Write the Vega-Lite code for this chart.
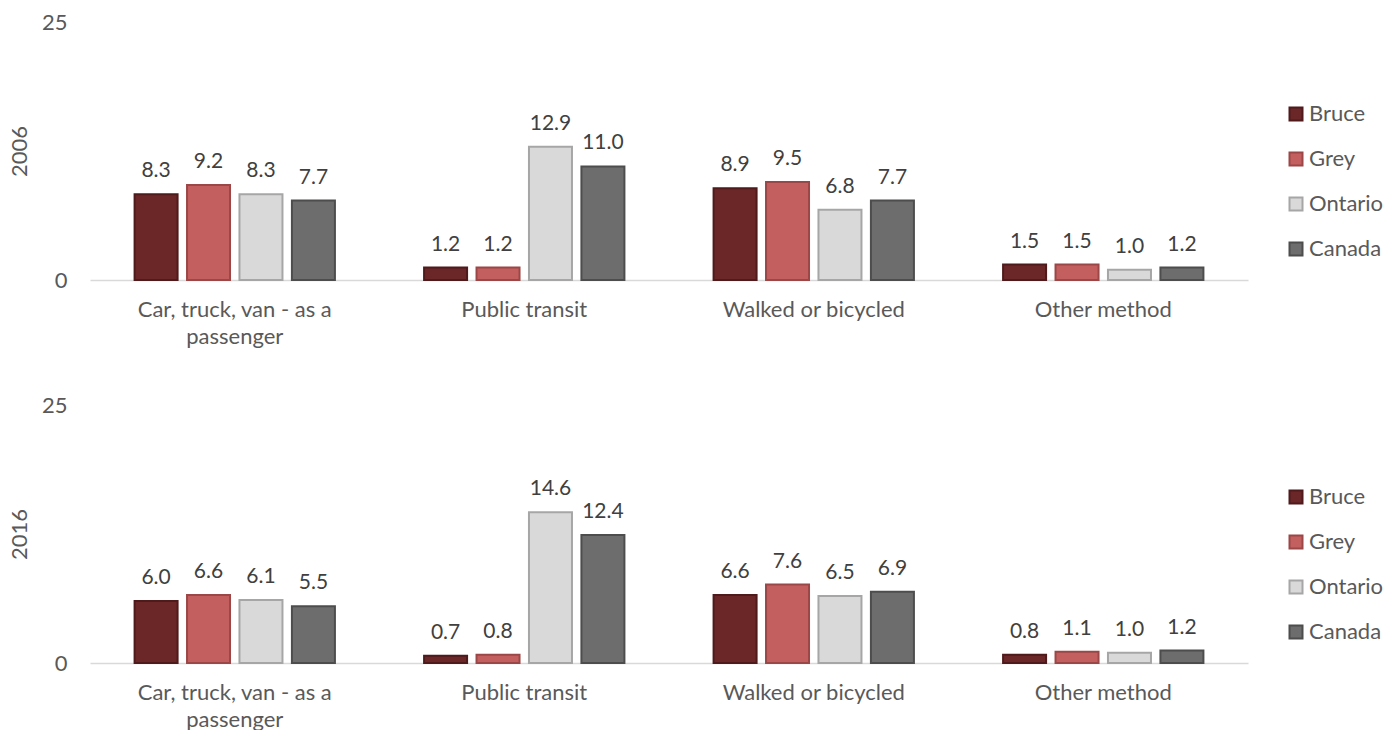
{
  "$schema": "https://vega.github.io/schema/vega-lite/v6.json",
  "padding": {"top": 11, "left": 8, "right": 0, "bottom": 0},
  "background": "white",
  "config": {"font": "Lato", "view": {"stroke": null}},
  "data": {"values": [
    {"year": "2006", "mode": "Car, truck, van - as a passenger", "region": "Bruce", "value": 8.3},
    {"year": "2006", "mode": "Car, truck, van - as a passenger", "region": "Grey", "value": 9.2},
    {"year": "2006", "mode": "Car, truck, van - as a passenger", "region": "Ontario", "value": 8.3},
    {"year": "2006", "mode": "Car, truck, van - as a passenger", "region": "Canada", "value": 7.7},
    {"year": "2006", "mode": "Public transit", "region": "Bruce", "value": 1.2},
    {"year": "2006", "mode": "Public transit", "region": "Grey", "value": 1.2},
    {"year": "2006", "mode": "Public transit", "region": "Ontario", "value": 12.9},
    {"year": "2006", "mode": "Public transit", "region": "Canada", "value": 11.0},
    {"year": "2006", "mode": "Walked or bicycled", "region": "Bruce", "value": 8.9},
    {"year": "2006", "mode": "Walked or bicycled", "region": "Grey", "value": 9.5},
    {"year": "2006", "mode": "Walked or bicycled", "region": "Ontario", "value": 6.8},
    {"year": "2006", "mode": "Walked or bicycled", "region": "Canada", "value": 7.7},
    {"year": "2006", "mode": "Other method", "region": "Bruce", "value": 1.5},
    {"year": "2006", "mode": "Other method", "region": "Grey", "value": 1.5},
    {"year": "2006", "mode": "Other method", "region": "Ontario", "value": 1.0},
    {"year": "2006", "mode": "Other method", "region": "Canada", "value": 1.2},
    {"year": "2016", "mode": "Car, truck, van - as a passenger", "region": "Bruce", "value": 6.0},
    {"year": "2016", "mode": "Car, truck, van - as a passenger", "region": "Grey", "value": 6.6},
    {"year": "2016", "mode": "Car, truck, van - as a passenger", "region": "Ontario", "value": 6.1},
    {"year": "2016", "mode": "Car, truck, van - as a passenger", "region": "Canada", "value": 5.5},
    {"year": "2016", "mode": "Public transit", "region": "Bruce", "value": 0.7},
    {"year": "2016", "mode": "Public transit", "region": "Grey", "value": 0.8},
    {"year": "2016", "mode": "Public transit", "region": "Ontario", "value": 14.6},
    {"year": "2016", "mode": "Public transit", "region": "Canada", "value": 12.4},
    {"year": "2016", "mode": "Walked or bicycled", "region": "Bruce", "value": 6.6},
    {"year": "2016", "mode": "Walked or bicycled", "region": "Grey", "value": 7.6},
    {"year": "2016", "mode": "Walked or bicycled", "region": "Ontario", "value": 6.5},
    {"year": "2016", "mode": "Walked or bicycled", "region": "Canada", "value": 6.9},
    {"year": "2016", "mode": "Other method", "region": "Bruce", "value": 0.8},
    {"year": "2016", "mode": "Other method", "region": "Grey", "value": 1.1},
    {"year": "2016", "mode": "Other method", "region": "Ontario", "value": 1.0},
    {"year": "2016", "mode": "Other method", "region": "Canada", "value": 1.2}
  ]},
  "resolve": {"legend": {"fill": "independent", "stroke": "independent"}},
  "spacing": 47,
  "vconcat": [
    {
      "width": 1158, "height": 258,
      "transform": [{"filter": "datum.year == '2006'"}],
      "encoding": {
        "x": {"field": "mode", "type": "nominal", "sort": ["Car, truck, van - as a passenger", "Public transit", "Walked or bicycled", "Other method"],
          "scale": {"paddingInner": 0, "paddingOuter": 0},
          "axis": {"title": null, "labelAngle": 0, "ticks": false, "domainColor": "#D9D9D9", "domainWidth": 1.5, "labelFontSize": 22, "labelColor": "#595959", "labelPadding": 19, "labelLimit": 500, "labelLineHeight": 27,
            "labelExpr": "datum.value == 'Car, truck, van - as a passenger' ? ['Car, truck, van - as a', 'passenger'] : datum.value"}},
        "xOffset": {"field": "region", "type": "nominal", "sort": ["Bruce", "Grey", "Ontario", "Canada"], "scale": {"paddingInner": 0.18, "paddingOuter": 0.85}},
        "y": {"field": "value", "type": "quantitative", "scale": {"domain": [0, 25], "nice": false},
          "axis": {"title": "2006", "values": [0, 25], "grid": false, "ticks": false, "domain": false, "labelFontSize": 22, "labelColor": "#595959", "labelPadding": 23, "titleFontSize": 22, "titleColor": "#595959", "titleFontWeight": "normal", "titlePadding": 10}}
      },
      "layer": [
        {"mark": {"type": "bar", "strokeWidth": 2},
         "encoding": {
           "fill": {"field": "region", "type": "nominal", "scale": {"domain": ["Bruce", "Grey", "Ontario", "Canada"], "range": ["#6B2628", "#C45F5F", "#D9D9D9", "#6D6D6D"]},
             "legend": {"orient": "none", "legendX": 1195, "legendY": 81, "title": null, "symbolType": "square", "symbolSize": 169, "symbolStrokeWidth": 2, "labelFontSize": 22, "labelColor": "#595959", "rowPadding": 23, "labelOffset": 2}},
           "stroke": {"field": "region", "type": "nominal", "scale": {"domain": ["Bruce", "Grey", "Ontario", "Canada"], "range": ["#4F1A1C", "#9C4747", "#A6A6A6", "#4D4D4D"]},
             "legend": {"orient": "none", "legendX": 1195, "legendY": 81, "title": null, "symbolType": "square", "symbolSize": 169, "symbolStrokeWidth": 2, "labelFontSize": 22, "labelColor": "#595959", "rowPadding": 23, "labelOffset": 2}}
         }},
        {"mark": {"type": "text", "baseline": "alphabetic", "dy": -17, "fontSize": 21, "color": "#404040"},
         "encoding": {"text": {"field": "value", "type": "quantitative", "format": ".1f"}}}
      ]
    },
    {
      "width": 1158, "height": 258,
      "transform": [{"filter": "datum.year == '2016'"}],
      "encoding": {
        "x": {"field": "mode", "type": "nominal", "sort": ["Car, truck, van - as a passenger", "Public transit", "Walked or bicycled", "Other method"],
          "scale": {"paddingInner": 0, "paddingOuter": 0},
          "axis": {"title": null, "labelAngle": 0, "ticks": false, "domainColor": "#D9D9D9", "domainWidth": 1.5, "labelFontSize": 22, "labelColor": "#595959", "labelPadding": 19, "labelLimit": 500, "labelLineHeight": 27,
            "labelExpr": "datum.value == 'Car, truck, van - as a passenger' ? ['Car, truck, van - as a', 'passenger'] : datum.value"}},
        "xOffset": {"field": "region", "type": "nominal", "sort": ["Bruce", "Grey", "Ontario", "Canada"], "scale": {"paddingInner": 0.18, "paddingOuter": 0.85}},
        "y": {"field": "value", "type": "quantitative", "scale": {"domain": [0, 25], "nice": false},
          "axis": {"title": "2016", "values": [0, 25], "grid": false, "ticks": false, "domain": false, "labelFontSize": 22, "labelColor": "#595959", "labelPadding": 23, "titleFontSize": 22, "titleColor": "#595959", "titleFontWeight": "normal", "titlePadding": 10}}
      },
      "layer": [
        {"mark": {"type": "bar", "strokeWidth": 2},
         "encoding": {
           "fill": {"field": "region", "type": "nominal", "scale": {"domain": ["Bruce", "Grey", "Ontario", "Canada"], "range": ["#6B2628", "#C45F5F", "#D9D9D9", "#6D6D6D"]},
             "legend": {"orient": "none", "legendX": 1195, "legendY": 81, "title": null, "symbolType": "square", "symbolSize": 169, "symbolStrokeWidth": 2, "labelFontSize": 22, "labelColor": "#595959", "rowPadding": 23, "labelOffset": 2}},
           "stroke": {"field": "region", "type": "nominal", "scale": {"domain": ["Bruce", "Grey", "Ontario", "Canada"], "range": ["#4F1A1C", "#9C4747", "#A6A6A6", "#4D4D4D"]},
             "legend": {"orient": "none", "legendX": 1195, "legendY": 81, "title": null, "symbolType": "square", "symbolSize": 169, "symbolStrokeWidth": 2, "labelFontSize": 22, "labelColor": "#595959", "rowPadding": 23, "labelOffset": 2}}
         }},
        {"mark": {"type": "text", "baseline": "alphabetic", "dy": -17, "fontSize": 21, "color": "#404040"},
         "encoding": {"text": {"field": "value", "type": "quantitative", "format": ".1f"}}}
      ]
    }
  ]
}
